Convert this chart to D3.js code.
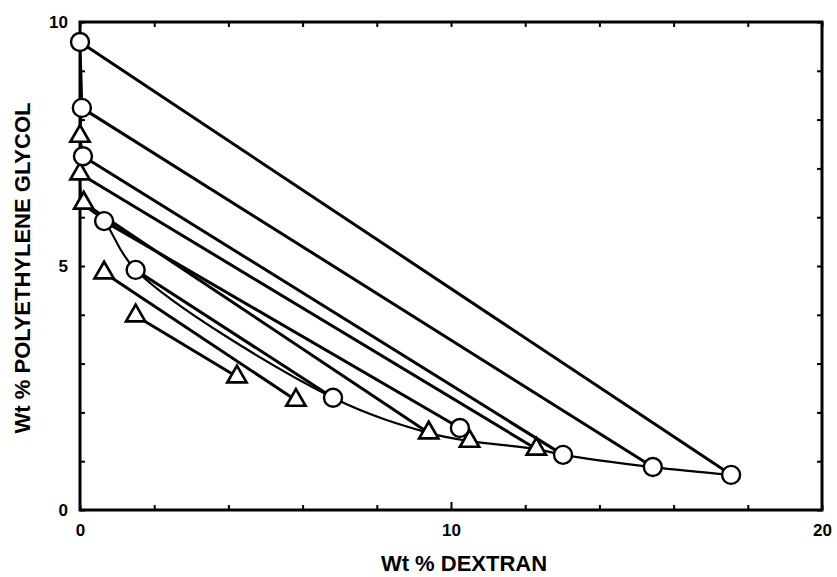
<!DOCTYPE html>
<html>
<head>
<meta charset="utf-8">
<script src="https://cdn.jsdelivr.net/npm/d3@7"></script>
<style>
  html, body { margin: 0; padding: 0; background: #fff; }
  svg { display: block; }
  text { font-family: "Liberation Sans", Arial, Helvetica, sans-serif; font-weight: bold; fill: #000; }
</style>
</head>
<body>
<svg id="chart" width="837" height="577"></svg>
<script>
// Phase compositions (wt % dextran, wt % PEG) for the two systems
const circleDextran = [0.0, 0.05, 0.08, 0.65, 1.5, 6.82, 10.24, 13.02, 15.44, 17.55];
const circlePEG     = [9.59, 8.24, 7.25, 5.92, 4.92, 2.30, 1.68, 1.13, 0.88, 0.72];
const triDextran    = [0.0, 0.0, 0.1, 0.65, 1.5, 4.23, 5.82, 9.4, 10.5, 12.3];
const triPEG        = [7.66, 6.89, 6.29, 4.86, 3.98, 2.73, 2.25, 1.58, 1.41, 1.25];

// Tie lines: pairs of indices (top phase, bottom phase)
const circleTies = [[0, 9], [1, 8], [2, 7], [3, 6], [4, 5]];
const triTies    = [[1, 9], [2, 7], [3, 6], [4, 5]];

// Binodal curve drawn through these points, in order ("c" circle, "t" triangle)
const binodalOrder = [["c",0],["c",1],["t",0],["c",2],["t",1],["t",2],["c",3],["c",4],
                      ["c",5],["t",7],["t",8],["t",9],["c",7],["c",8],["c",9]];

const xTicks = [0, 2, 4, 6, 8, 10, 12, 14, 16, 18, 20];
const xTickLabels = [0, 10, 20];
const yTicks = [0, 1, 2, 3, 4, 5, 6, 7, 8, 9, 10];
const yTickLabels = [0, 5, 10];

const svg = d3.select("#chart");
const plotLeft = 80, plotRight = 822, plotTop = 22, plotBottom = 510;

const x = d3.scaleLinear().domain([0, 20]).range([plotLeft, plotRight]);
const y = d3.scaleLinear().domain([0, 10]).range([plotBottom, plotTop]);

const pt = (kind, i) => kind === "c"
  ? [circleDextran[i], circlePEG[i]]
  : [triDextran[i], triPEG[i]];

// Frame axes with inward ticks
const fmtX = d => xTickLabels.includes(d) ? d : "";
const fmtY = d => yTickLabels.includes(d) ? d : "";

const gx = svg.append("g").attr("transform", `translate(0,${plotBottom})`)
  .call(d3.axisBottom(x).tickValues(xTicks).tickSize(-5).tickPadding(14).tickFormat(fmtX));
const gxTop = svg.append("g").attr("transform", `translate(0,${plotTop})`)
  .call(d3.axisTop(x).tickValues(xTicks).tickSize(-5).tickFormat(""));
const gy = svg.append("g").attr("transform", `translate(${plotLeft},0)`)
  .call(d3.axisLeft(y).tickValues(yTicks).tickSize(-5).tickPadding(12).tickFormat(fmtY));
const gyRight = svg.append("g").attr("transform", `translate(${plotRight},0)`)
  .call(d3.axisRight(y).tickValues(yTicks).tickSize(-5).tickFormat(""));

[gx, gxTop, gy, gyRight].forEach(g => {
  g.select(".domain").remove();
  g.selectAll(".tick line").attr("stroke", "#000").attr("stroke-width", 2);
  g.selectAll(".tick text").style("font-size", "17px").attr("fill", "#000");
});
// Slightly longer tick at the labelled midpoint of the dextran axis
gx.selectAll(".tick line").filter(d => d === 10).attr("y2", -8);

svg.append("rect")
  .attr("x", plotLeft).attr("y", plotTop)
  .attr("width", plotRight - plotLeft).attr("height", plotBottom - plotTop)
  .attr("fill", "none").attr("stroke", "#000").attr("stroke-width", 3);

// Tie lines
const ties = [];
circleTies.forEach(([a, b]) => ties.push([pt("c", a), pt("c", b)]));
triTies.forEach(([a, b]) => ties.push([pt("t", a), pt("t", b)]));

svg.append("g").selectAll("line").data(ties).join("line")
  .attr("x1", d => x(d[0][0])).attr("y1", d => y(d[0][1]))
  .attr("x2", d => x(d[1][0])).attr("y2", d => y(d[1][1]))
  .attr("stroke", "#000").attr("stroke-width", 3);

// Binodal curve
const line = d3.line()
  .x(d => x(d[0])).y(d => y(d[1]))
  .curve(d3.curveCatmullRom.alpha(0.5));
svg.append("path")
  .datum(binodalOrder.map(([k, i]) => pt(k, i)))
  .attr("d", line)
  .attr("fill", "none").attr("stroke", "#000").attr("stroke-width", 2.2);

// Markers
svg.append("g").selectAll("path")
  .data(d3.range(triDextran.length))
  .join("path")
  .attr("d", d3.symbol(d3.symbolTriangle, 160)())
  .attr("transform", i => `translate(${x(triDextran[i])},${y(triPEG[i])})`)
  .attr("fill", "#fff").attr("stroke", "#000").attr("stroke-width", 2.7)
  .attr("stroke-linejoin", "miter");

svg.append("g").selectAll("circle")
  .data(d3.range(circleDextran.length))
  .join("circle")
  .attr("cx", i => x(circleDextran[i]))
  .attr("cy", i => y(circlePEG[i]))
  .attr("r", 9)
  .attr("fill", "#fff").attr("stroke", "#000").attr("stroke-width", 2.4);

// Axis titles
svg.append("text")
  .attr("x", 464).attr("y", 571)
  .attr("text-anchor", "middle")
  .style("font-size", "22px")
  .text("Wt % DEXTRAN");

svg.append("text")
  .attr("transform", "translate(30,268) rotate(-90)")
  .attr("text-anchor", "middle")
  .style("font-size", "22px")
  .text("Wt % POLYETHYLENE GLYCOL");
</script>
</body>
</html>
